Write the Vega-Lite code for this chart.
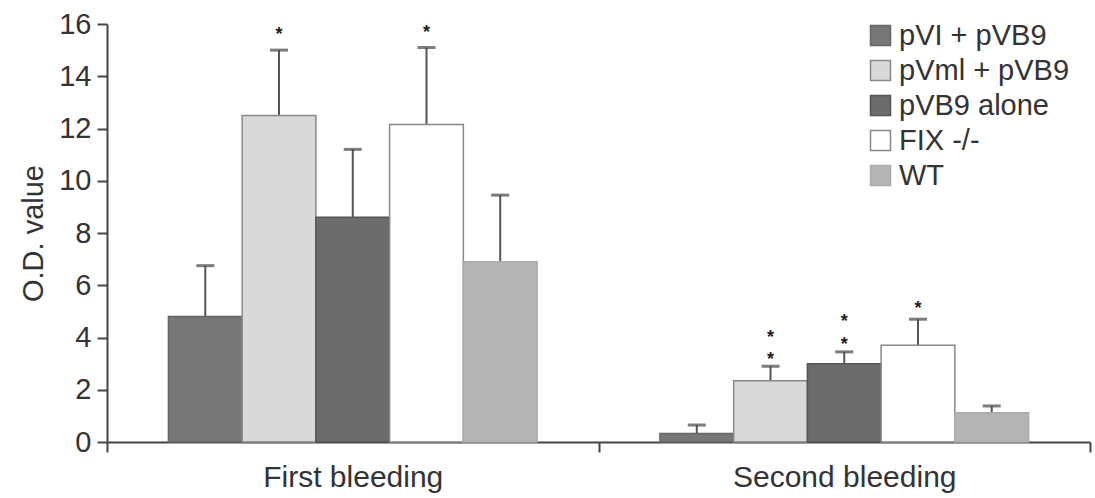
{
  "$schema": "https://vega.github.io/schema/vega-lite/v6.json",
  "width": 983,
  "height": 418,
  "autosize": "none",
  "padding": {"left": 107, "top": 24, "right": 5, "bottom": 56},
  "background": "white",
  "config": {
    "font": "Liberation Sans",
    "view": {"stroke": null},
    "axis": {"grid": false, "domainColor": "#444", "domainWidth": 2, "tickColor": "#444", "tickWidth": 2, "tickSize": 10, "labelColor": "#333", "titleColor": "#333", "labelFontWeight": "normal", "titleFontWeight": "normal"}
  },
  "datasets": {
    "bars": [
      {"bleeding": "First bleeding", "group": "pVI + pVB9", "value": 4.8, "upper": 6.75},
      {"bleeding": "First bleeding", "group": "pVml + pVB9", "value": 12.5, "upper": 15.0},
      {"bleeding": "First bleeding", "group": "pVB9 alone", "value": 8.6, "upper": 11.2},
      {"bleeding": "First bleeding", "group": "FIX -/-", "value": 12.15, "upper": 15.1},
      {"bleeding": "First bleeding", "group": "WT", "value": 6.9, "upper": 9.45},
      {"bleeding": "Second bleeding", "group": "pVI + pVB9", "value": 0.33, "upper": 0.65},
      {"bleeding": "Second bleeding", "group": "pVml + pVB9", "value": 2.34, "upper": 2.9},
      {"bleeding": "Second bleeding", "group": "pVB9 alone", "value": 3.0, "upper": 3.45},
      {"bleeding": "Second bleeding", "group": "FIX -/-", "value": 3.7, "upper": 4.7},
      {"bleeding": "Second bleeding", "group": "WT", "value": 1.12, "upper": 1.38}
    ],
    "stars": [
      {"bleeding": "First bleeding", "group": "pVml + pVB9", "y": 15.72},
      {"bleeding": "First bleeding", "group": "FIX -/-", "y": 15.8},
      {"bleeding": "Second bleeding", "group": "pVml + pVB9", "y": 4.15},
      {"bleeding": "Second bleeding", "group": "pVml + pVB9", "y": 3.3},
      {"bleeding": "Second bleeding", "group": "pVB9 alone", "y": 4.75},
      {"bleeding": "Second bleeding", "group": "pVB9 alone", "y": 3.85},
      {"bleeding": "Second bleeding", "group": "FIX -/-", "y": 5.24}
    ]
  },
  "encoding": {
    "x": {"field": "bleeding", "type": "nominal", "sort": ["First bleeding", "Second bleeding"],
      "scale": {"paddingInner": 0, "paddingOuter": 0},
      "axis": {"title": null, "labelAngle": 0, "labelFontSize": 30, "labelPadding": 10, "labelLimit": 0, "tickBand": "extent"}},
    "xOffset": {"field": "group", "type": "nominal",
      "sort": ["pVI + pVB9", "pVml + pVB9", "pVB9 alone", "FIX -/-", "WT"],
      "scale": {"paddingInner": 0, "paddingOuter": 0.833}}
  },
  "layer": [
    {
      "data": {"name": "bars"},
      "mark": {"type": "rule", "color": "#555", "strokeWidth": 2},
      "encoding": {
        "y": {"field": "value", "type": "quantitative"},
        "y2": {"field": "upper"}
      }
    },
    {
      "data": {"name": "bars"},
      "mark": {"type": "tick", "color": "#444", "thickness": 3, "size": 18, "orient": "horizontal"},
      "encoding": {
        "y": {"field": "upper", "type": "quantitative"}
      }
    },
    {
      "data": {"name": "bars"},
      "mark": {"type": "bar", "strokeWidth": 1.5},
      "encoding": {
        "y": {"field": "value", "type": "quantitative",
          "scale": {"domain": [0, 16], "nice": false},
          "axis": {"title": "O.D. value", "titleFontSize": 29, "titlePadding": 10, "labelFontSize": 29, "labelPadding": 6, "values": [0, 2, 4, 6, 8, 10, 12, 14, 16]}},
        "fill": {"field": "group", "type": "nominal",
          "sort": ["pVI + pVB9", "pVml + pVB9", "pVB9 alone", "FIX -/-", "WT"],
          "scale": {"domain": ["pVI + pVB9", "pVml + pVB9", "pVB9 alone", "FIX -/-", "WT"], "range": ["#777777", "#d9d9d9", "#6c6c6c", "#ffffff", "#b4b4b4"]},
          "legend": {"title": null, "orient": "none", "legendX": 759, "legendY": -3, "symbolType": "square", "symbolSize": 400, "symbolStrokeWidth": 1.5, "labelFontSize": 29, "labelLimit": 0, "labelColor": "#333", "rowPadding": 5, "labelOffset": 4}},
        "stroke": {"field": "group", "type": "nominal",
          "sort": ["pVI + pVB9", "pVml + pVB9", "pVB9 alone", "FIX -/-", "WT"],
          "scale": {"domain": ["pVI + pVB9", "pVml + pVB9", "pVB9 alone", "FIX -/-", "WT"], "range": ["#666666", "#888888", "#555555", "#888888", "#aaaaaa"]}}
      }
    },
    {
      "data": {"name": "stars"},
      "mark": {"type": "text", "text": "*", "fontSize": 18, "fontWeight": "bold", "baseline": "middle", "dy": 4, "color": "#222"},
      "encoding": {
        "y": {"field": "y", "type": "quantitative"}
      }
    }
  ]
}
